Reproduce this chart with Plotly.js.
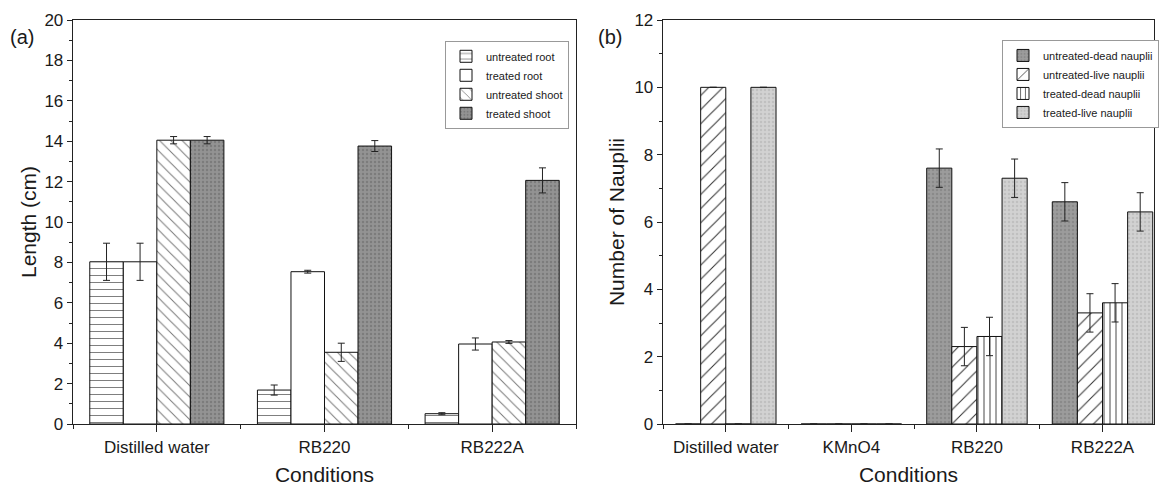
<!DOCTYPE html>
<html>
<head>
<meta charset="utf-8">
<script src="https://cdn.plot.ly/plotly-3.0.1.min.js"></script>
<style>html,body{margin:0;padding:0;background:#fff;}#chart{width:1161px;height:486px;}</style>
</head>
<body>
<div id="chart"></div>
<script>
// ---- Panel (a) data ----
const catsA = ['Distilled water', 'RB220', 'RB222A'];
const untreatedRoot = [8.03, 1.68, 0.51];
const untreatedRootErr = [0.92, 0.25, 0.05];
const treatedRoot = [8.03, 7.54, 3.96];
const treatedRootErr = [0.92, 0.07, 0.30];
const untreatedShoot = [14.05, 3.55, 4.06];
const untreatedShootErr = [0.18, 0.45, 0.07];
const treatedShoot = [14.05, 13.76, 12.06];
const treatedShootErr = [0.18, 0.27, 0.62];
const yTicksA = [0, 2, 4, 6, 8, 10, 12, 14, 16, 18, 20];

// ---- Panel (b) data ----
const catsB = ['Distilled water', 'KMnO4', 'RB220', 'RB222A'];
const untreatedDead = [0, 0, 7.6, 6.6];
const untreatedDeadErr = [0, 0, 0.57, 0.57];
const untreatedLive = [10, 0, 2.3, 3.3];
const untreatedLiveErr = [0, 0, 0.57, 0.57];
const treatedDead = [0, 0, 2.6, 3.6];
const treatedDeadErr = [0, 0, 0.57, 0.57];
const treatedLive = [10, 0, 7.3, 6.3];
const treatedLiveErr = [0, 0, 0.57, 0.57];
const yTicksB = [0, 2, 4, 6, 8, 10, 12];

const idxA = catsA.map((c, i) => i);
const idxB = catsB.map((c, i) => i);

const FONT = 'Arial, "Liberation Sans", Helvetica, sans-serif';
const TXT = '#1a1a1a';

function errs(arr) {
  return {type: 'data', array: arr, visible: true, color: '#222', thickness: 1, width: 3.5};
}
function bar(name, x, y, e, xa, ya, leg, marker) {
  return {
    type: 'bar', name: name, x: x, y: y, error_y: errs(e),
    xaxis: xa, yaxis: ya, legend: leg,
    marker: Object.assign({line: {color: '#111', width: 1}}, marker),
    hoverinfo: 'x+y'
  };
}

const traces = [
  bar('untreated root', idxA, untreatedRoot, untreatedRootErr, 'x', 'y', 'legend',
      {color: '#fff', pattern: {shape: '-', fgcolor: '#666', bgcolor: '#fff', size: 7, solidity: 0.12, fillmode: 'replace'}}),
  bar('treated root', idxA, treatedRoot, treatedRootErr, 'x', 'y', 'legend',
      {color: '#fff'}),
  bar('untreated shoot', idxA, untreatedShoot, untreatedShootErr, 'x', 'y', 'legend',
      {color: '#fff', pattern: {shape: '\\', fgcolor: '#777', bgcolor: '#fff', size: 8, solidity: 0.12, fillmode: 'replace'}}),
  bar('treated shoot', idxA, treatedShoot, treatedShootErr, 'x', 'y', 'legend',
      {color: '#8e8e8e', pattern: {shape: '.', fgcolor: '#7c7c7c', bgcolor: '#939393', size: 4, solidity: 0.3, fillmode: 'replace'}}),

  bar('untreated-dead nauplii', idxB, untreatedDead, untreatedDeadErr, 'x2', 'y2', 'legend2',
      {color: '#9a9a9a', pattern: {shape: '.', fgcolor: '#8a8a8a', bgcolor: '#9c9c9c', size: 4, solidity: 0.3, fillmode: 'replace'}}),
  bar('untreated-live nauplii', idxB, untreatedLive, untreatedLiveErr, 'x2', 'y2', 'legend2',
      {color: '#fff', pattern: {shape: '/', fgcolor: '#333', bgcolor: '#fff', size: 10, solidity: 0.1, fillmode: 'replace'}}),
  bar('treated-dead nauplii', idxB, treatedDead, treatedDeadErr, 'x2', 'y2', 'legend2',
      {color: '#fff', pattern: {shape: '|', fgcolor: '#333', bgcolor: '#fff', size: 6, solidity: 0.15, fillmode: 'replace'}}),
  bar('treated-live nauplii', idxB, treatedLive, treatedLiveErr, 'x2', 'y2', 'legend2',
      {color: '#cfcfcf', pattern: {shape: '.', fgcolor: '#c0c0c0', bgcolor: '#d2d2d2', size: 4, solidity: 0.3, fillmode: 'replace'}})
];

function xAxis(domain, cats, range, anchor) {
  return {
    domain: domain, anchor: anchor, type: 'linear', range: range,
    tickmode: 'array', tickvals: cats.map((c, i) => i), ticktext: cats,
    ticks: 'outside', ticklen: 7, tickwidth: 1, tickcolor: '#222',
    minor: {ticks: 'outside', ticklen: 4, tickwidth: 1, tickcolor: '#222', tick0: -0.5, dtick: 1, showgrid: false},
    showline: true, linecolor: '#222', linewidth: 1.3, mirror: true,
    showgrid: false, zeroline: false, automargin: false,
    tickfont: {family: FONT, size: 17, color: TXT},
    title: {text: 'Conditions', font: {family: FONT, size: 21, color: TXT}, standoff: 12}
  };
}
function yAxis(ticks, title, anchor, standoff) {
  return {
    anchor: anchor, range: [ticks[0], ticks[ticks.length - 1]],
    tickmode: 'array', tickvals: ticks,
    ticks: 'outside', ticklen: 5, tickwidth: 1, tickcolor: '#222',
    minor: {ticks: 'outside', ticklen: 3, tickwidth: 1, tickcolor: '#222', dtick: 1, tick0: 0, showgrid: false},
    showline: true, linecolor: '#222', linewidth: 1.3, mirror: true,
    showgrid: false, zeroline: false, automargin: false,
    tickfont: {family: FONT, size: 17, color: TXT},
    title: {text: title, font: {family: FONT, size: 21, color: TXT}, standoff: standoff}
  };
}

const legendCommon = {
  bgcolor: '#fff', bordercolor: '#999', borderwidth: 1,
  font: {family: FONT, size: 11, color: TXT},
  xanchor: 'right', yanchor: 'top', tracegroupgap: 0, itemwidth: 30,
  traceorder: 'normal'
};

const layout = {
  width: 1161, height: 486,
  margin: {l: 0, r: 0, t: 20, b: 62},
  paper_bgcolor: '#fff', plot_bgcolor: '#fff',
  barmode: 'group', bargap: 0.2, bargroupgap: 0,
  showlegend: true,
  xaxis: xAxis([73 / 1161, 576 / 1161], catsA, [-0.5, 2.5], 'y'),
  yaxis: yAxis(yTicksA, 'Length (cm)', 'x', 2),
  xaxis2: xAxis([663 / 1161, 1154 / 1161], catsB, [-0.5, 3.41], 'y2'),
  yaxis2: yAxis(yTicksB, 'Number of Nauplii', 'x2', 4),
  legend: Object.assign({}, legendCommon, {x: 569 / 1161, y: 1 - 25 / 486}),
  legend2: Object.assign({}, legendCommon, {x: 1159 / 1161, y: 1 - 24 / 486}),
  annotations: [
    {text: '(a)', xref: 'paper', yref: 'paper', x: 22 / 1161, y: 1 - 21 / 486,
     xanchor: 'center', yanchor: 'middle', showarrow: false,
     font: {family: FONT, size: 20, color: TXT}},
    {text: '(b)', xref: 'paper', yref: 'paper', x: 610 / 1161, y: 1 - 20 / 486,
     xanchor: 'center', yanchor: 'middle', showarrow: false,
     font: {family: FONT, size: 20, color: TXT}}
  ]
};

Plotly.newPlot('chart', traces, layout, {displayModeBar: false, staticPlot: true});
</script>
</body>
</html>
